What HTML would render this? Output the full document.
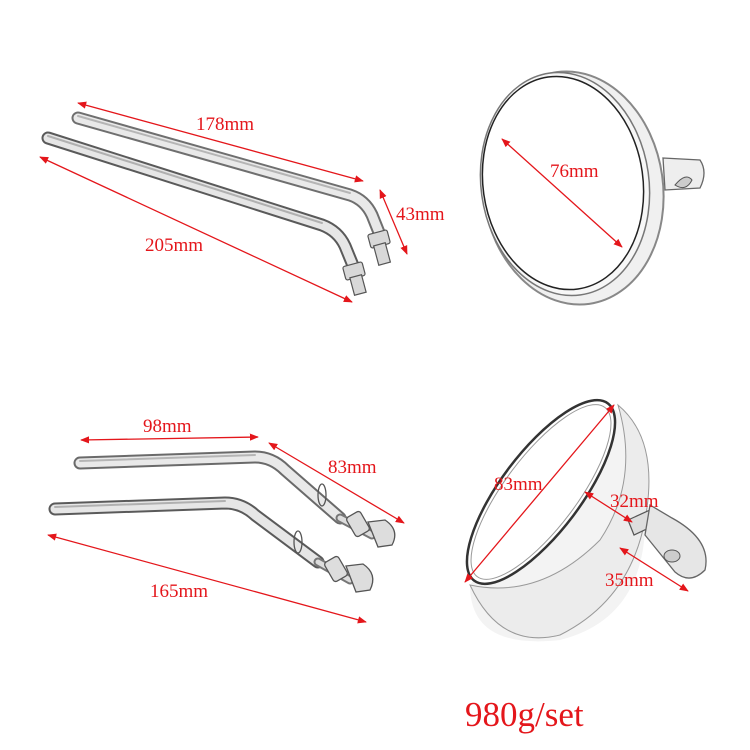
<!DOCTYPE html>
<html><head><meta charset="utf-8"><style>
html,body{margin:0;padding:0;background:#fff;}
svg{display:block;}
text{font-family:"Liberation Serif",serif;fill:#e4161b;}
</style></head><body>
<svg width="750" height="750" viewBox="0 0 750 750" xmlns="http://www.w3.org/2000/svg">
<defs>
<marker id="a" viewBox="0 0 10 10" refX="9" refY="5" markerWidth="7" markerHeight="7" orient="auto-start-reverse"><path d="M0,1 L10,5 L0,9 z" fill="#e4161b"/></marker>
<g id="rodstyle"></g>
</defs>

<!-- top rods -->
<g fill="none" stroke-linecap="round" stroke-linejoin="round">
 <path d="M78,118 L350,195 Q365,200 372,215 L380,235" stroke="#6f6f6f" stroke-width="13"/>
 <path d="M78,118 L350,195 Q365,200 372,215 L380,235" stroke="#e9e9e9" stroke-width="9"/>
 <path d="M78,116 L350,193" stroke="#b5b5b5" stroke-width="2"/>
 <path d="M48,138 L322,225 Q338,231 345,246 L354,268" stroke="#5a5a5a" stroke-width="13"/>
 <path d="M48,138 L322,225 Q338,231 345,246 L354,268" stroke="#e6e6e6" stroke-width="9"/>
 <path d="M48,136 L322,223" stroke="#b0b0b0" stroke-width="2"/>
</g>
<g stroke="#555" stroke-width="1.2" fill="#d8d8d8">
 <rect x="369" y="232" width="20" height="14" rx="2" transform="rotate(-15 379 239)"/>
 <rect x="376" y="244" width="12" height="20" transform="rotate(-15 382 254)"/>
 <rect x="344" y="264" width="20" height="14" rx="2" transform="rotate(-15 354 271)"/>
 <rect x="352" y="276" width="12" height="18" transform="rotate(-15 358 285)"/>
</g>

<!-- top arrows -->
<g stroke="#e4161b" stroke-width="1.3" marker-start="url(#a)" marker-end="url(#a)">
 <line x1="78" y1="103" x2="363" y2="181"/>
 <line x1="40" y1="157" x2="352" y2="302"/>
 <line x1="380" y1="190" x2="407" y2="254"/>
</g>
<text x="196" y="130" font-size="19">178mm</text>
<text x="145" y="251" font-size="19">205mm</text>
<text x="396" y="220" font-size="19">43mm</text>

<!-- top-right mirror -->
<g>
 <path d="M663,158 L700,160 Q708,172 700,188 L665,190 Z" fill="#eee" stroke="#666" stroke-width="1.3"/>
 <path d="M675,185 Q686,172 692,180 Q686,192 675,185 Z" fill="#ccc" stroke="#555"/>
 <ellipse cx="573" cy="188" rx="90" ry="117" fill="#f0f0f0" stroke="#888" stroke-width="2" transform="rotate(-8 573 188)"/>
 <ellipse cx="565" cy="184" rx="84" ry="112" fill="#f7f7f7" stroke="#777" stroke-width="1.5" transform="rotate(-8 565 184)"/>
 <ellipse cx="563" cy="183" rx="80" ry="107" fill="#fff" stroke="#222" stroke-width="1.5" transform="rotate(-8 563 183)"/>
</g>
<line x1="502" y1="139" x2="622" y2="247" stroke="#e4161b" stroke-width="1.3" marker-start="url(#a)" marker-end="url(#a)"/>
<text x="550" y="177" font-size="19">76mm</text>

<!-- bottom rods -->
<g fill="none" stroke-linecap="round" stroke-linejoin="round">
 <path d="M80,463 L255,457 Q272,457 285,470 L340,518" stroke="#6a6a6a" stroke-width="13"/>
 <path d="M80,463 L255,457 Q272,457 285,470 L340,518" stroke="#e9e9e9" stroke-width="9"/>
 <path d="M80,461 L255,455" stroke="#b5b5b5" stroke-width="2"/>
 <path d="M340,518 L372,535" stroke="#777" stroke-width="9"/>
 <path d="M340,518 L372,535" stroke="#ddd" stroke-width="5"/>
 <path d="M55,509 L225,503 Q242,503 255,515 L318,562" stroke="#5a5a5a" stroke-width="13"/>
 <path d="M55,509 L225,503 Q242,503 255,515 L318,562" stroke="#e6e6e6" stroke-width="9"/>
 <path d="M55,507 L225,501" stroke="#b0b0b0" stroke-width="2"/>
 <path d="M318,562 L350,580" stroke="#777" stroke-width="9"/>
 <path d="M318,562 L350,580" stroke="#ddd" stroke-width="5"/>
</g>
<g stroke="#555" stroke-width="1.3" fill="#ddd">
 <ellipse cx="322" cy="495" rx="4" ry="11" fill="none"/>
 <ellipse cx="298" cy="542" rx="4" ry="11" fill="none"/>
 <rect x="350" y="513" width="16" height="22" rx="3" transform="rotate(-30 358 524)"/>
 <path d="M368,522 L385,520 Q400,530 392,545 L378,547 Z"/>
 <rect x="328" y="558" width="16" height="22" rx="3" transform="rotate(-30 336 569)"/>
 <path d="M346,566 L363,564 Q378,574 370,590 L356,592 Z"/>
</g>

<!-- bottom arrows -->
<g stroke="#e4161b" stroke-width="1.3" marker-start="url(#a)" marker-end="url(#a)">
 <line x1="81" y1="440" x2="258" y2="437"/>
 <line x1="269" y1="443" x2="404" y2="523"/>
 <line x1="48" y1="535" x2="366" y2="622"/>
</g>
<text x="143" y="432" font-size="19">98mm</text>
<text x="328" y="473" font-size="19">83mm</text>
<text x="150" y="597" font-size="19">165mm</text>

<!-- bottom-right bowl mirror -->
<g>
 <path d="M470,585 Q470,650 560,640 Q640,620 645,530 Q645,430 610,405 Z" fill="#f3f3f3"/>
 <path d="M470,585 Q540,600 600,540 Q640,480 618,405 Q660,440 645,520 Q630,600 560,635 Q500,650 470,585 Z" fill="#ececec" stroke="#999" stroke-width="1"/>
 <ellipse cx="541" cy="492" rx="111" ry="40" fill="#fff" stroke="#333" stroke-width="2.5" transform="rotate(-53 541 492)"/>
 <ellipse cx="541" cy="492" rx="106" ry="36" fill="none" stroke="#999" stroke-width="1" transform="rotate(-53 541 492)"/>
 <path d="M628,520 L650,510 L655,525 L634,535 Z" fill="#ddd" stroke="#555" stroke-width="1.2"/>
 <path d="M650,505 L672,518 Q712,540 705,570 Q690,585 675,572 L645,535 Z" fill="#e6e6e6" stroke="#666" stroke-width="1.3"/>
 <ellipse cx="672" cy="556" rx="8" ry="6" fill="#ccc" stroke="#555"/>
</g>
<g stroke="#e4161b" stroke-width="1.3" marker-start="url(#a)" marker-end="url(#a)">
 <line x1="465" y1="582" x2="614" y2="405"/>
 <line x1="585" y1="492" x2="632" y2="522"/>
 <line x1="620" y1="548" x2="688" y2="591"/>
</g>
<text x="494" y="490" font-size="19">83mm</text>
<text x="610" y="507" font-size="19">32mm</text>
<text x="605" y="586" font-size="19">35mm</text>

<text x="465" y="726" font-size="35">980g/set</text>
</svg>
</body></html>
